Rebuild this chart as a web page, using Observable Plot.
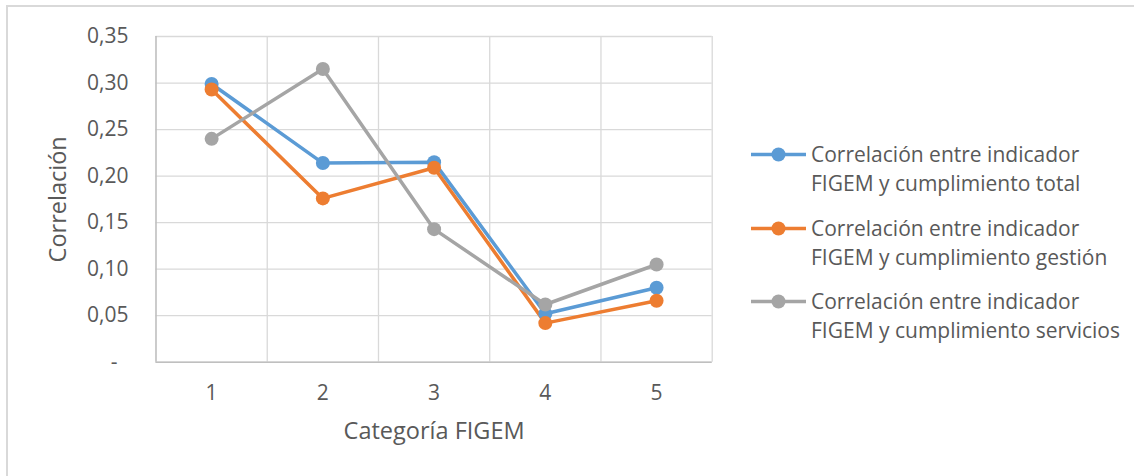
<!DOCTYPE html>
<html><head><meta charset="utf-8">
<script src="https://cdn.jsdelivr.net/npm/d3@7"></script>
<script src="https://cdn.jsdelivr.net/npm/@observablehq/plot@0.6"></script>
<style>
html,body{margin:0;padding:0;background:#fff;width:1134px;height:476px;overflow:hidden;font-family:"Open Sans",sans-serif;}
#frame{position:absolute;left:6px;top:5px;width:1300px;height:700px;border-left:2px solid #d9d9d9;border-top:2px solid #d9d9d9;box-sizing:border-box;}
#chart{position:absolute;left:0;top:0;}
#legend{position:absolute;left:751px;top:140px;color:#595959;font-size:21px;line-height:29px;}
.item{display:flex;align-items:flex-start;margin-bottom:15.5px;}
.item svg{flex:none;margin-right:5px;}
.item div{white-space:nowrap;}
</style></head>
<body>
<div id="frame"></div>
<div id="chart"></div>
<div id="legend"></div>
<script>
const categories = [1, 2, 3, 4, 5];
const seriesNames = [
  "Correlación entre indicador FIGEM y cumplimiento total",
  "Correlación entre indicador FIGEM y cumplimiento gestión",
  "Correlación entre indicador FIGEM y cumplimiento servicios"
];
const legendLines = [
  ["Correlación entre indicador", "FIGEM y cumplimiento total"],
  ["Correlación entre indicador", "FIGEM y cumplimiento gestión"],
  ["Correlación entre indicador", "FIGEM y cumplimiento servicios"]
];
const valuesTotal = [0.299, 0.214, 0.215, 0.052, 0.080];
const valuesGestion = [0.293, 0.176, 0.209, 0.042, 0.066];
const valuesServicios = [0.240, 0.315, 0.143, 0.062, 0.105];
const colors = ["#5B9BD5", "#ED7D31", "#A5A5A5"];
const yTicks = [0, 0.05, 0.10, 0.15, 0.20, 0.25, 0.30, 0.35];
const xLabel = "Categoría FIGEM";
const yLabel = "Correlación";

const seriesValues = [valuesTotal, valuesGestion, valuesServicios];
const rows = seriesNames.flatMap((name, i) =>
  categories.map((c, j) => ({cat: c, value: seriesValues[i][j], series: name})));
const boundaries = categories.map(c => c + 0.5);
const fmt = v => v === 0 ? "-\u00a0\u00a0" : d3.format(".2f")(v).replace(".", ",");

const chart = Plot.plot({
  width: 720,
  height: 476,
  marginTop: 36,
  marginBottom: 114.3,
  marginLeft: 155.5,
  marginRight: 8.3,
  style: {fontFamily: "'Open Sans', sans-serif", fontSize: "21px", color: "#595959", background: "transparent", overflow: "visible"},
  x: {type: "linear", domain: [0.5, 5.5]},
  y: {domain: [0, 0.35]},
  color: {domain: seriesNames, range: colors},
  marks: [
    Plot.gridY(yTicks, {stroke: "#d9d9d9", strokeOpacity: 1, strokeWidth: 1.3}),
    Plot.ruleX(boundaries, {stroke: "#d9d9d9", strokeWidth: 1.3}),
    Plot.ruleX([0.5], {stroke: "#bfbfbf", strokeWidth: 1.6}),
    Plot.ruleY([0], {stroke: "#bfbfbf", strokeWidth: 1.6}),
    Plot.axisY(yTicks, {tickSize: 0, tickPadding: 27.5, tickFormat: fmt, label: null, fill: "#595959"}),
    Plot.axisX(categories, {tickSize: 0, tickPadding: 23, tickFormat: d => String(d), label: null, fill: "#595959"}),
    Plot.text([xLabel], {frameAnchor: "bottom", textAnchor: "middle", lineAnchor: "middle", dy: 69, fontSize: 23.5, fill: "#595959"}),
    Plot.text([yLabel], {frameAnchor: "left", textAnchor: "middle", lineAnchor: "middle", dx: -98, rotate: -90, fontSize: 23.5, fill: "#595959"}),
    Plot.line(rows, {x: "cat", y: "value", z: "series", stroke: "series", strokeWidth: 3.5, strokeLinejoin: "round", strokeLinecap: "round"}),
    Plot.dot(rows, {x: "cat", y: "value", fill: "series", r: 7})
  ]
});
document.getElementById("chart").appendChild(chart);

const legend = d3.select("#legend");
seriesNames.forEach((name, i) => {
  const item = legend.append("div").attr("class", "item");
  const s = item.append("svg").attr("width", 55).attr("height", 29);
  s.append("line").attr("x1", 0).attr("x2", 55).attr("y1", 14.5).attr("y2", 14.5)
    .attr("stroke", colors[i]).attr("stroke-width", 3.5);
  s.append("circle").attr("cx", 27.5).attr("cy", 14.5).attr("r", 7).attr("fill", colors[i]);
  item.append("div").html(legendLines[i].join("<br>"));
});
</script>
</body></html>
